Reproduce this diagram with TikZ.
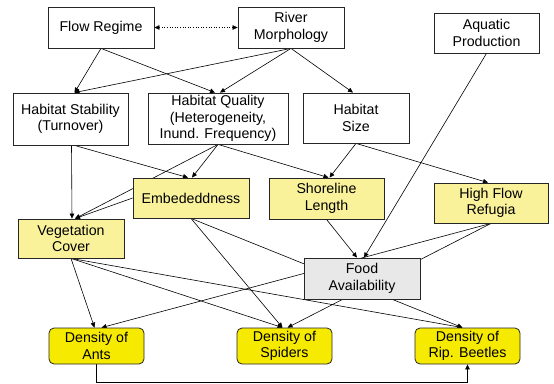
\documentclass[tikz,border=0pt]{standalone}
\usepackage{fontspec}
\setmainfont{Liberation Sans}
\usetikzlibrary{arrows.meta}
\definecolor{paleyellow}{RGB}{249,242,155}
\definecolor{densyellow}{RGB}{246,234,0}
\definecolor{foodgray}{RGB}{232,232,232}
\pgfdeclarelayer{bg}
\pgfsetlayers{bg,main}
\tikzset{
  plainbox/.style={draw=black!85, line width=0.8pt, fill=white, inner sep=0pt, align=center,
    font=\fontsize{14.2}{16.5}\selectfont},
  lightbox/.style={plainbox, fill=paleyellow},
  foodbox/.style={plainbox, fill=foodgray},
  densbox/.style={plainbox, fill=densyellow, rounded corners=5pt},
  link/.style={line width=0.6pt, -{Triangle[length=5pt,width=4.5pt]}},
}

\begin{document}
\begin{tikzpicture}[x=1pt, y=-1pt]
  \useasboundingbox (0,0) rectangle (554,383);
  \node[plainbox, minimum width=106, minimum height=41] (flow) at (101,27.5) {Flow Regime};
  \node[plainbox, minimum width=106, minimum height=41] (morph) at (291,27.5) {River\\Morphology};
  \node[plainbox, minimum width=105, minimum height=40] (aquatic) at (486.5,33) {Aquatic\\Production};
  \node[plainbox, minimum width=115, minimum height=52] (stab) at (70.5,119) {Habitat Stability\\(Turnover)};
  \node[plainbox, minimum width=140, minimum height=51] (qual) at (218,118.5) {Habitat Quality\\(Heterogeneity,\\Inund. Frequency)};
  \node[plainbox, minimum width=106, minimum height=50] (size) at (356,118) {Habitat\\Size};
  \node[lightbox, minimum width=116, minimum height=40] (embed) at (191,198) {Embededdness};
  \node[lightbox, minimum width=115, minimum height=41] (shore) at (326.5,198.5) {Shoreline\\Length};
  \node[lightbox, minimum width=114, minimum height=40] (refugia) at (491,203) {High Flow\\Refugia};
  \node[lightbox, minimum width=106, minimum height=39] (veg) at (71,238.5) {Vegetation\\Cover};
  \node[foodbox, minimum width=116, minimum height=41] (food) at (362,278.5) {Food\\Availability};
  \node[densbox, minimum width=95, minimum height=36] (ants) at (96.5,346) {Density of\\Ants};
  \node[densbox, minimum width=95, minimum height=36] (spiders) at (284.5,346) {Density of\\Spiders};
  \node[densbox, minimum width=105, minimum height=36] (beetles) at (467.5,346) {Density of\\Rip. Beetles};
  \coordinate (low) at (0,382);

  \begin{pgfonlayer}{bg}
    \draw[link] (flow.south) -- ([xshift=4]stab.north);
    \draw[link] (flow.south) -- ([xshift=-3]qual.north);
    \draw[link] (morph.south) -- ([xshift=4]stab.north);
    \draw[link] (morph.south) -- ([xshift=2]qual.north);
    \draw[link] (morph.south) -- ([xshift=-3]size.north);
    \draw[link] ([xshift=1]stab.south) -- ([xshift=1]veg.north);
    \draw[link] ([xshift=4]stab.south) -- ([xshift=-3]embed.north);
    \draw[link] (qual.south) -- ([xshift=1]embed.north);
    \draw[link] (qual.south) -- ([xshift=4]veg.north);
    \draw[link] (qual.south) -- ([xshift=2]shore.north);
    \draw[link] (size.south) -- ([xshift=3]shore.north);
    \draw[link] (size.south) -- ([xshift=-3]refugia.north);
    \draw[link] (embed.west) -- ([xshift=4]veg.north);
    \draw[link] (shore.south) -- ([xshift=-5]food.north);
    \draw[link] (aquatic.south) -- ([xshift=2]food.north);
    \draw[link] (refugia.south) -- ([xshift=5]ants.north);
    \draw[link] (refugia.south) -- ([xshift=3]spiders.north);
    \draw[link] (embed.south) -- ([xshift=-5]beetles.north);
    \draw[link] (embed.south) -- ([xshift=-2]spiders.north);
    \draw[link] (veg.south) -- ([xshift=-2]ants.north);
    \draw[link] (veg.south) -- ([xshift=-2]spiders.north);
    \draw[link] (veg.south) -- ([xshift=-5]beetles.north);
    \draw[link] (ants.south) -- (ants.south |- low) -- (beetles.south |- low) -- (beetles.south);
    \draw[line width=0.6pt, dotted, {Triangle[length=5pt,width=4.5pt]}-{Triangle[length=5pt,width=4.5pt]}]
      (flow.east) -- (morph.west);
  \end{pgfonlayer}
\end{tikzpicture}
\end{document}
